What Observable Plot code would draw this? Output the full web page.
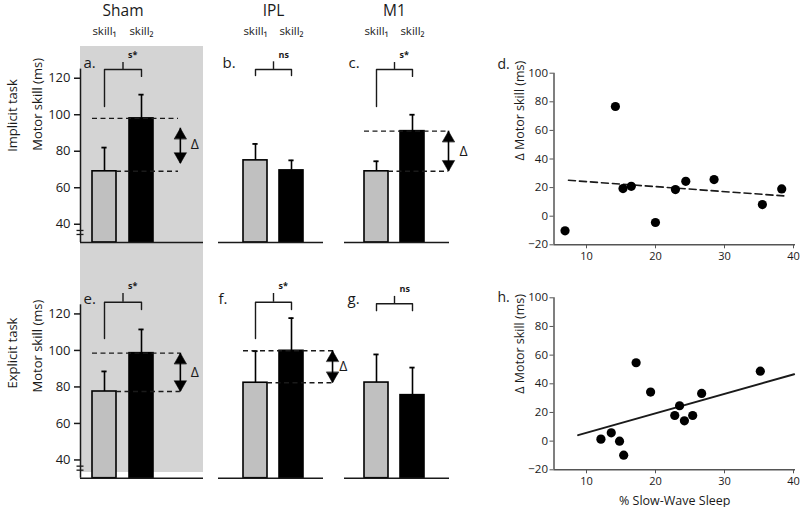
<!DOCTYPE html>
<html><head><meta charset="utf-8">
<script src="https://cdn.jsdelivr.net/npm/d3@7"></script>
<script src="https://cdn.jsdelivr.net/npm/@observablehq/plot@0.6"></script>
<style>
html,body{margin:0;padding:0;background:#fff;}
#root{position:relative;width:800px;height:507px;overflow:hidden;font-family:"Open Sans",sans-serif;}
#shade{position:absolute;left:80px;top:46px;width:123px;height:426px;background:#d4d4d4;}
</style></head>
<body><div id="root"><div id="shade"></div></div>
<script>
// ---------- data ----------
const conditions = ["Sham", "IPL", "M1"];
const skillLabels = ["skill\u2081", "skill\u2082"];
const taskLabels = ["Implicit task", "Explicit task"];
const panelLetters = [["a.", "b.", "c."], ["e.", "f.", "g."]];
const scatterLetters = ["d.", "h."];
const barTicks = [40, 60, 80, 100, 120];
const scatterYTicks = [-20, 0, 20, 40, 60, 80, 100];
const scatterXTicks = [10, 20, 30, 40];

const implicitMean = [[69, 98], [75, 69.5], [69, 91]];
const implicitErrTop = [[82, 111], [84, 75], [74.5, 100]];
const explicitMean = [[77.5, 98.5], [82.3, 99.8], [82.4, 75.5]];
const explicitErrTop = [[88.5, 111.5], [99.6, 117.7], [97.8, 90.6]];
const implicitSig = ["s*", "ns", "s*"];
const explicitSig = ["s*", "s*", "ns"];
// bracket: [top, left leg end, right leg end, centre tick top]
const implicitBracket = [[124.8, 104.5, 121, 128.6], [124.8, 121.5, 121.5, 129], [124.8, 104.5, 121, 128.6]];
const explicitBracket = [[126.4, 106.5, 122.4, 131.2], [126.4, 106.5, 122.4, 131.2], [125.6, 121.8, 121.8, 129.6]];
// delta arrow [low tip, high tip]
const implicitArrow = [[73.3, 92.6], null, [69, 91]];
const explicitArrow = [[77.5, 98.5], [82.3, 99.8], null];
const axisBreak = [36.6, 34.4];

const implicitSWS = [6.6, 13.9, 15.0, 16.2, 19.7, 22.6, 24.1, 28.2, 35.2, 38.0];
const implicitDeltaSkill = [-10.2, 76.7, 19.3, 20.9, -4.4, 18.6, 24.4, 25.6, 8.1, 19.1];
const implicitFitX = [7.1, 38.3];
const implicitFitY = [25.1, 14.2];
const explicitSWS = [11.8, 13.3, 14.5, 15.1, 16.9, 19.0, 22.5, 23.2, 23.9, 25.1, 26.4, 34.9];
const explicitDeltaSkill = [1.4, 5.8, 0, -9.8, 54.7, 34.2, 17.9, 24.7, 14.2, 17.9, 33.3, 48.8];
const explicitFitX = [8.5, 39.8];
const explicitFitY = [4.2, 46.7];

// ---------- layout ----------
const W = 800, H = 507;
const rowLayout = [{top: 68.6, base: 242}, {top: 304.3, base: 477.7}];
const colLayout = [
  {left: 80, right: 203, c1: 104, c2: 141},
  {left: 218, right: 323, c1: 255, c2: 291},
  {left: 344, right: 449, c1: 376, c2: 412}
];
const deltaLayout = [
  [{dashEnd: 3.0, arrowX: 3.05, textX: 3.44}, null, {dashEnd: 3.0, arrowX: 3.0, textX: 3.42}],
  [{dashEnd: 3.05, arrowX: 3.05, textX: 3.44}, {dashEnd: 3.17, arrowX: 3.14, textX: 3.44}, null]
];
const letterDx = [[3, 4, 4], [3, 0, 3]];
const scatterLayout = [
  {top: 72.7, base: 244.3, labelDy: 1.5, letterDy: -8.7},
  {top: 297.3, base: 469.3, labelDy: 10, letterDy: 0}
];
const FONT = "'Open Sans', 'Noto Sans', sans-serif";
const INK = "#1a1a1a";

const triangleShape = {
  draw(context, l, r) {
    context.moveTo(-r, 0);
    context.lineTo(0, -l);
    context.lineTo(r, 0);
    context.closePath();
  }
};

const root = document.getElementById("root");
function place(svg) {
  svg.style.position = "absolute";
  svg.style.left = "0px";
  svg.style.top = "0px";
  root.appendChild(svg);
}
function baseStyle() {
  return {background: "transparent", overflow: "visible", fontFamily: FONT, fontSize: "13px", color: INK};
}

function barPanel(row, col) {
  const L = colLayout[col], R = rowLayout[row];
  const u = L.c2 - L.c1;
  const xd = [1 - (L.c1 - L.left) / u, 2 + (L.right - L.c2) / u];
  const half = 12 / u, cap = 2.6 / u;
  const mean = (row ? explicitMean : implicitMean)[col];
  const errTop = (row ? explicitErrTop : implicitErrTop)[col];
  const bars = skillLabels.map((s, i) => ({skill: s, pos: i + 1, mean: mean[i], err: errTop[i]}));
  const [bTop, bLeft, bRight, bTick] = (row ? explicitBracket : implicitBracket)[col];
  const bracketPath = [{x: 1, y: bLeft}, {x: 1, y: bTop}, {x: 2, y: bTop}, {x: 2, y: bRight}];
  const sig = (row ? explicitSig : implicitSig)[col];
  const arrow = (row ? explicitArrow : implicitArrow)[col];
  const dl = deltaLayout[row][col];

  const marks = [];
  marks.push(Plot.rect(bars, {filter: d => d.pos === 1, x1: d => d.pos - half, x2: d => d.pos + half, y1: 30, y2: "mean", fill: "#c0c0c0", stroke: "#000", strokeWidth: 1.6}));
  marks.push(Plot.rect(bars, {filter: d => d.pos === 2, x1: d => d.pos - half, x2: d => d.pos + half, y1: 30, y2: "mean", fill: "#000", stroke: "#000", strokeWidth: 1.6}));
  marks.push(Plot.ruleX(bars, {x: "pos", y1: "mean", y2: "err", stroke: "#000", strokeWidth: 1.6}));
  marks.push(Plot.ruleY(bars, {y: "err", x1: d => d.pos - cap, x2: d => d.pos + cap, stroke: "#000", strokeWidth: 1.8}));
  marks.push(Plot.ruleY([30], {stroke: INK, strokeWidth: 1.5}));
  marks.push(Plot.line(bracketPath, {x: "x", y: "y", stroke: INK, strokeWidth: 1.4}));
  marks.push(Plot.ruleX([1.5], {y1: bTop, y2: bTick, stroke: INK, strokeWidth: 1.4}));
  marks.push(Plot.text([sig], {x: 1.5, y: bTick, text: d => d, dx: 5, dy: -7, textAnchor: "start", fontSize: 9, fontWeight: "bold"}));
  if (arrow && dl) {
    const dashes = [
      {y: mean[1], x1: 1 - half, x2: dl.dashEnd},
      {y: mean[0], x1: 1 + half, x2: dl.dashEnd}
    ];
    marks.push(Plot.ruleY(dashes, {y: "y", x1: "x1", x2: "x2", stroke: INK, strokeWidth: 1.4, strokeDasharray: "5,3.5"}));
    marks.push(Plot.ruleX([dl.arrowX], {y1: arrow[0], y2: arrow[1], stroke: "#000", strokeWidth: 1.6}));
    marks.push(Plot.vector([{y: arrow[1], rot: 0}, {y: arrow[0], rot: 180}], {
      x: dl.arrowX, y: "y", rotate: "rot", length: 10.5, anchor: "end", shape: triangleShape, r: 6,
      fill: "#000", stroke: "#000", strokeWidth: 0.6
    }));
    marks.push(Plot.text(["\u0394"], {x: dl.textX, y: (mean[0] + mean[1]) / 2, text: d => d, fontSize: 14}));
  }
  marks.push(Plot.text([panelLetters[row][col]], {frameAnchor: "top-left", text: d => d, dx: letterDx[row][col], dy: -6, textAnchor: "start", lineAnchor: "middle", fontSize: 15}));
  if (row === 0) {
    marks.push(Plot.text([conditions[col]], {x: 1.5, frameAnchor: "top", text: d => d, dy: 10.5 - R.top, fontSize: 15.5, lineAnchor: "middle"}));
    marks.push(Plot.text(skillLabels, {x: (d, i) => i + 1, frameAnchor: "top", text: d => d, dy: 31 - R.top, fontSize: 11.5, lineAnchor: "middle"}));
  }
  if (col === 0) {
    marks.push(Plot.ruleX([xd[0]], {stroke: INK, strokeWidth: 1.5}));
    marks.push(Plot.axisY({ticks: barTicks, tickSize: 6, tickPadding: 4, fontSize: 13, label: null, stroke: INK, strokeWidth: 1.5}));
    marks.push(Plot.ruleY(axisBreak, {x1: xd[0] - 3.5 / u, x2: xd[0] + 3.5 / u, stroke: INK, strokeWidth: 1.3}));
    marks.push(Plot.text([taskLabels[row]], {frameAnchor: "left", text: d => d, dx: 12 - L.left, dy: row ? -3 : -4, rotate: -90, fontSize: 13}));
    marks.push(Plot.text(["Motor skill (ms)"], {frameAnchor: "left", text: d => d, dx: 37 - L.left, dy: row ? 1 : -5, rotate: -90, fontSize: 13}));
  }

  return Plot.plot({
    width: W, height: H,
    marginLeft: L.left, marginRight: W - L.right,
    marginTop: R.top, marginBottom: H - R.base,
    style: baseStyle(),
    x: {domain: xd, axis: null},
    y: {domain: [30, 125], axis: null},
    marks
  });
}

function scatterPanel(row) {
  const R = scatterLayout[row];
  const xs = row ? explicitSWS : implicitSWS;
  const ys = row ? explicitDeltaSkill : implicitDeltaSkill;
  const fx = row ? explicitFitX : implicitFitX;
  const fy = row ? explicitFitY : implicitFitY;
  const pts = xs.map((x, i) => ({x, y: ys[i]}));
  const fit = fx.map((x, i) => ({x, y: fy[i]}));
  const marks = [
    Plot.ruleX([5], {stroke: "#555", strokeWidth: 1.5}),
    Plot.ruleY([-20], {stroke: "#555", strokeWidth: 1.5}),
    Plot.axisY({ticks: scatterYTicks, tickSize: 4, tickPadding: 2, fontSize: 11.5, label: null, stroke: "#555"}),
    Plot.axisX({ticks: scatterXTicks, tickSize: 4, tickPadding: 3, fontSize: 11, label: null, stroke: "#555", textStroke: null, dx: -2}),
    Plot.line(fit, {x: "x", y: "y", stroke: INK, strokeWidth: row ? 2 : 1.6, strokeDasharray: row ? null : "7,4"}),
    Plot.dot(pts, {x: "x", y: "y", r: 4.6, fill: "#000"}),
    Plot.text(["\u0394 Motor skill (ms)"], {frameAnchor: "left", text: d => d, dx: 519 - 553.5, dy: R.labelDy, rotate: -90, fontSize: 12.5}),
    Plot.text([scatterLetters[row]], {frameAnchor: "top-left", text: d => d, dx: 497 - 553.5, dy: R.letterDy, textAnchor: "start", lineAnchor: "middle", fontSize: 14})
  ];
  if (row === 1) {
    marks.push(Plot.text(["% Slow-Wave Sleep"], {frameAnchor: "bottom", text: d => d, dy: 500 - R.base, lineAnchor: "middle", fontSize: 12.5}));
  }
  return Plot.plot({
    width: W, height: H,
    marginLeft: 553.5, marginRight: W - 795,
    marginTop: R.top, marginBottom: H - R.base,
    style: baseStyle(),
    x: {domain: [5, 40], axis: null},
    y: {domain: [-20, 100], axis: null},
    marks
  });
}

for (let row = 0; row < 2; row++) {
  for (let col = 0; col < 3; col++) place(barPanel(row, col));
  place(scatterPanel(row));
}
</script>
</body></html>
